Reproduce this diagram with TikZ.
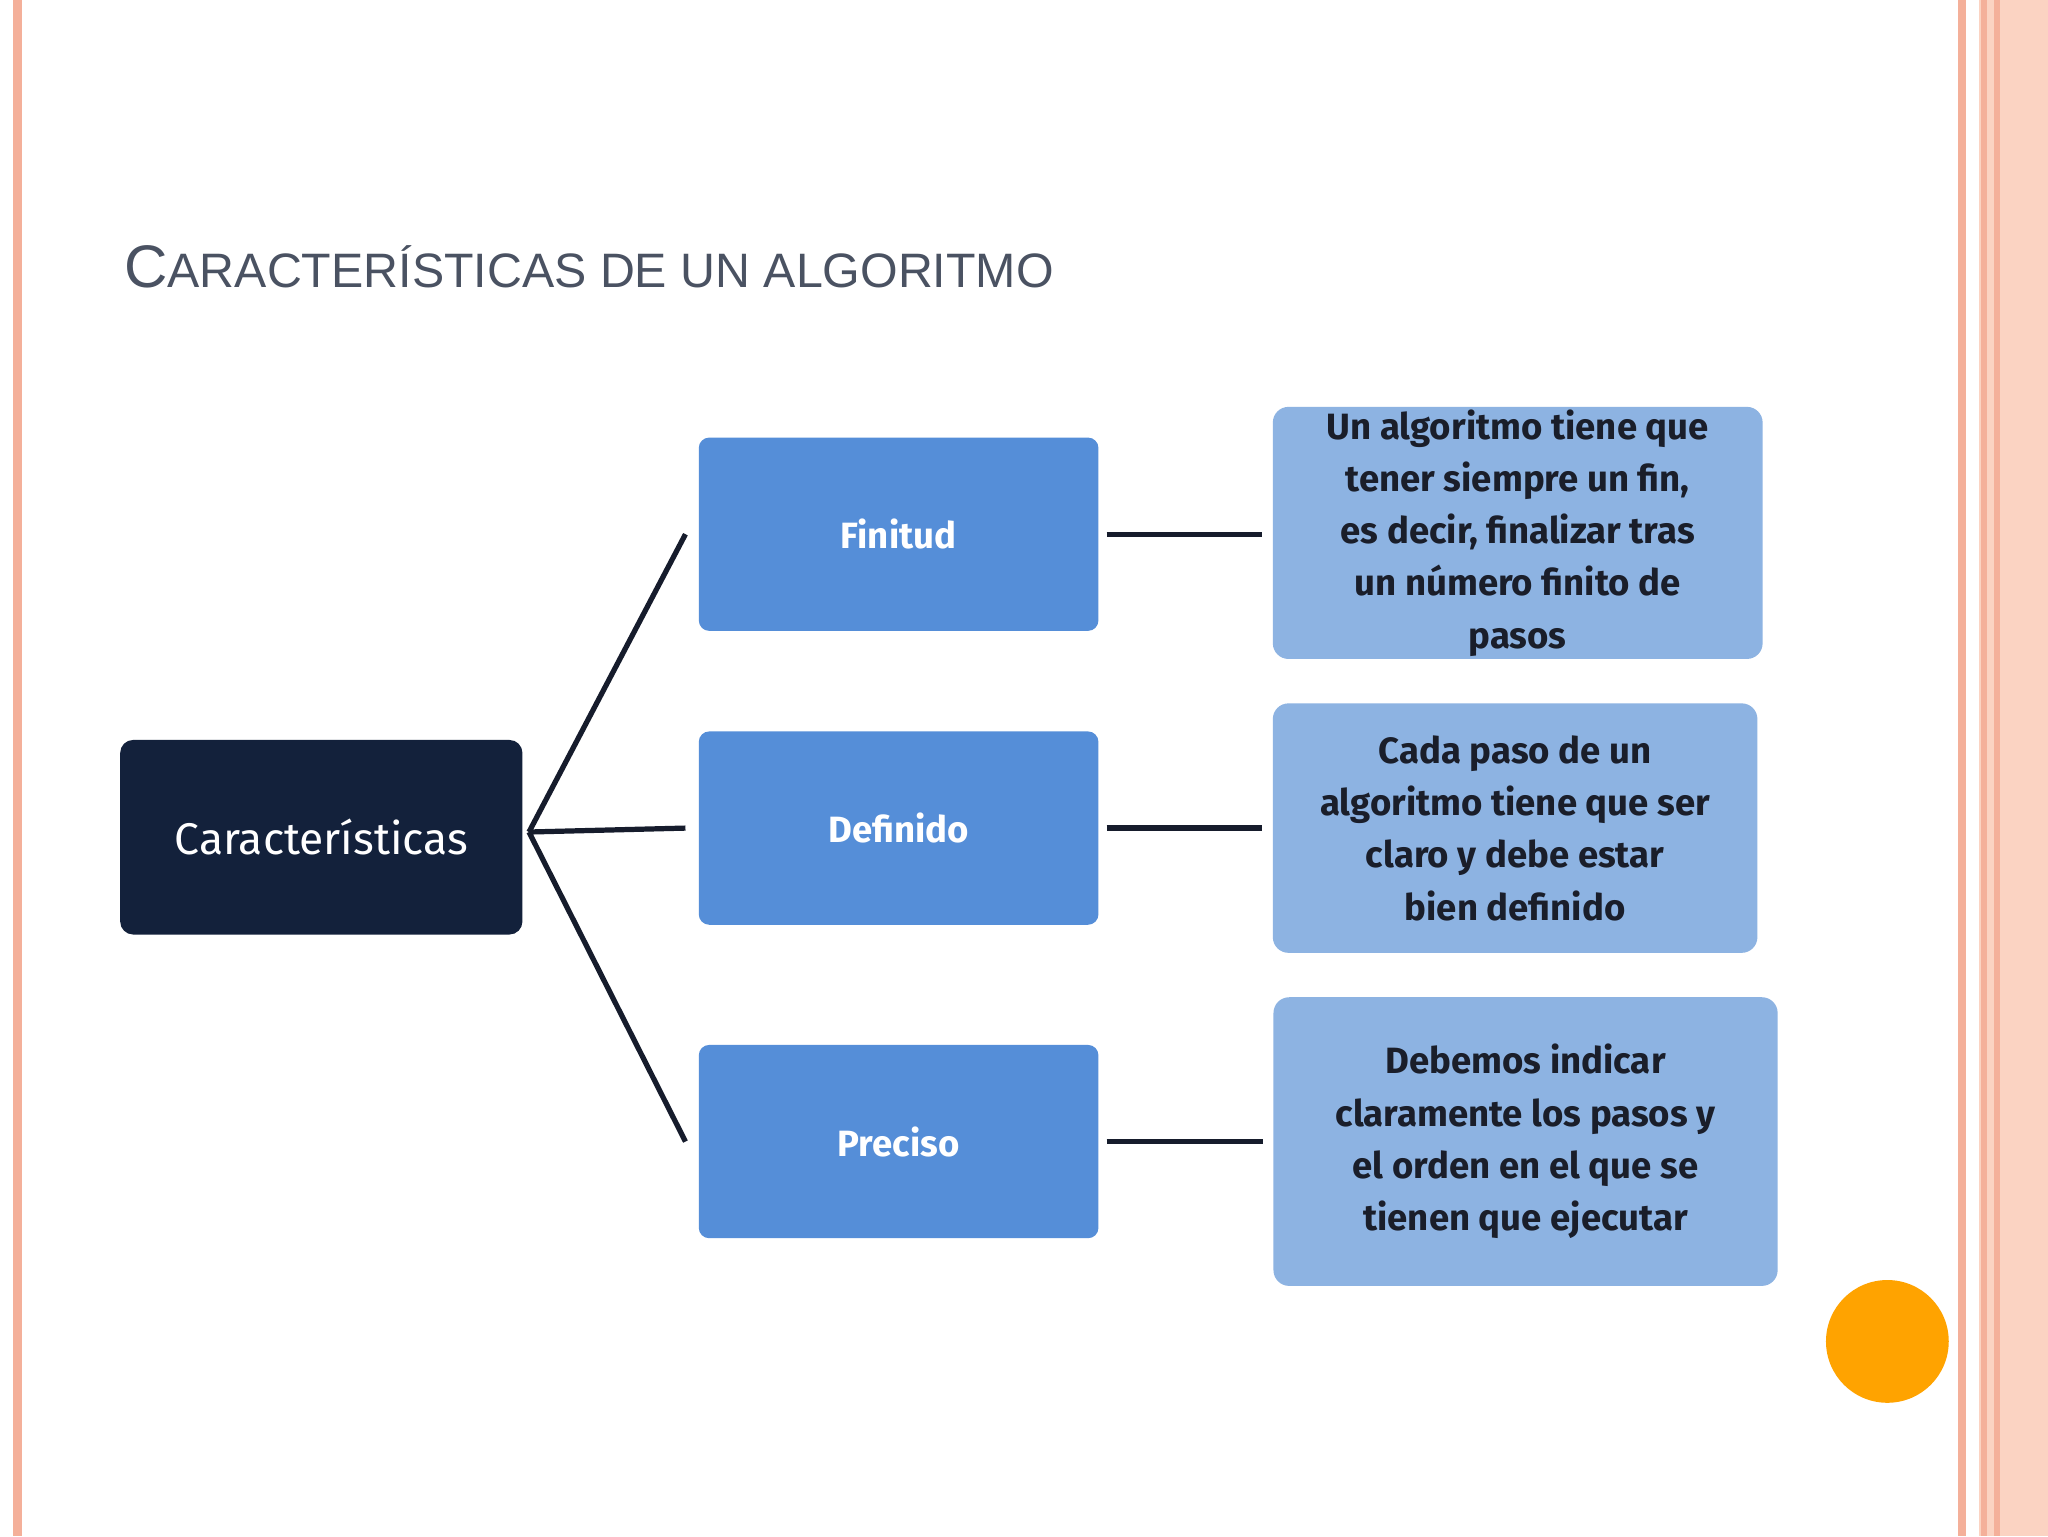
\documentclass[tikz,border=0pt]{standalone}
\usepackage{fontspec}
\setmainfont{Fira Sans}
\newfontfamily\titlefont{Liberation Sans}
\begin{document}
\begin{tikzpicture}[x=1pt,y=-1pt,
  mid/.style={draw=none,fill=midblue,rounded corners=8pt,minimum width=306pt,minimum height=148pt,text=white,font=\fontsize{28}{30}\selectfont\bfseries},
  desc/.style={fill=lightblue,rounded corners=12pt,text=textdark,align=center,font=\fontsize{28}{40}\selectfont\bfseries,inner sep=0pt},
  conn/.style={line width=4pt,draw=linedark}]
\definecolor{midblue}{HTML}{558ED8}
\definecolor{lightblue}{HTML}{8DB3E2}
\definecolor{textdark}{HTML}{1A1E2A}
\definecolor{linedark}{HTML}{161C2C}
\definecolor{navy}{HTML}{13213B}
\definecolor{salmon}{HTML}{F4B09A}
\definecolor{peach}{HTML}{FBD3C2}
\definecolor{titlegray}{HTML}{4A5262}
\useasboundingbox (0,0) rectangle (1568,1176);
\fill[white] (0,0) rectangle (1568,1176);
% borders
\fill[salmon] (10,0) rectangle (17,1176);
\fill[salmon] (1499,0) rectangle (1505,1176);
\fill[peach] (1515,0) rectangle (1568,1176);
\fill[salmon] (1517,0) rectangle (1521,1176);
\fill[salmon] (1527,0) rectangle (1531,1176);
% title
\node[anchor=base west,inner sep=0pt,text=titlegray] (title) at (95,220)
  {\titlefont\fontsize{46}{50}\selectfont C\fontsize{37}{40}\selectfont ARACTERÍSTICAS DE UN ALGORITMO};
% root
\node[fill=navy,rounded corners=10pt,minimum width=308pt,minimum height=149pt,text=white,inner sep=0pt,font=\fontsize{34}{36}\selectfont] (root) at (246,641) {Características};
% middle
\node[mid] (fin) at (688,409) {Finitud};
\node[mid] (def) at (688,634) {Definido};
\node[mid] (pre) at (688,874) {Preciso};
% descriptions
\node[desc,minimum width=375pt,minimum height=193pt] (d1) at (1162,408) {Un algoritmo tiene que\\tener siempre un fin,\\es decir, finalizar tras\\un número finito de\\pasos};
\node[desc,minimum width=371pt,minimum height=191pt] (d2) at (1160,634) {Cada paso de un\\algoritmo tiene que ser\\claro y debe estar\\bien definido};
\node[desc,minimum width=386pt,minimum height=221pt] (d3) at (1168,874) {Debemos indicar\\claramente los pasos y\\el orden en el que se\\tienen que ejecutar};
% connectors
\coordinate (r) at (405,637);
\draw[conn] (r) -- ([xshift=-10pt]fin.west);
\draw[conn] (r) -- ([xshift=-10pt]def.west);
\draw[conn] (r) -- ([xshift=-10pt]pre.west);
\draw[conn] ([xshift=6pt]fin.east) -- ([xshift=-8pt]fin.east -| d1.west);
\draw[conn] ([xshift=6pt]def.east) -- ([xshift=-8pt]def.east -| d2.west);
\draw[conn] ([xshift=6pt]pre.east) -- ([xshift=-8pt]pre.east -| d3.west);
% orange dot
\fill[orange!80!red!60!yellow] (1445,1027) circle (47);
\end{tikzpicture}
\end{document}
